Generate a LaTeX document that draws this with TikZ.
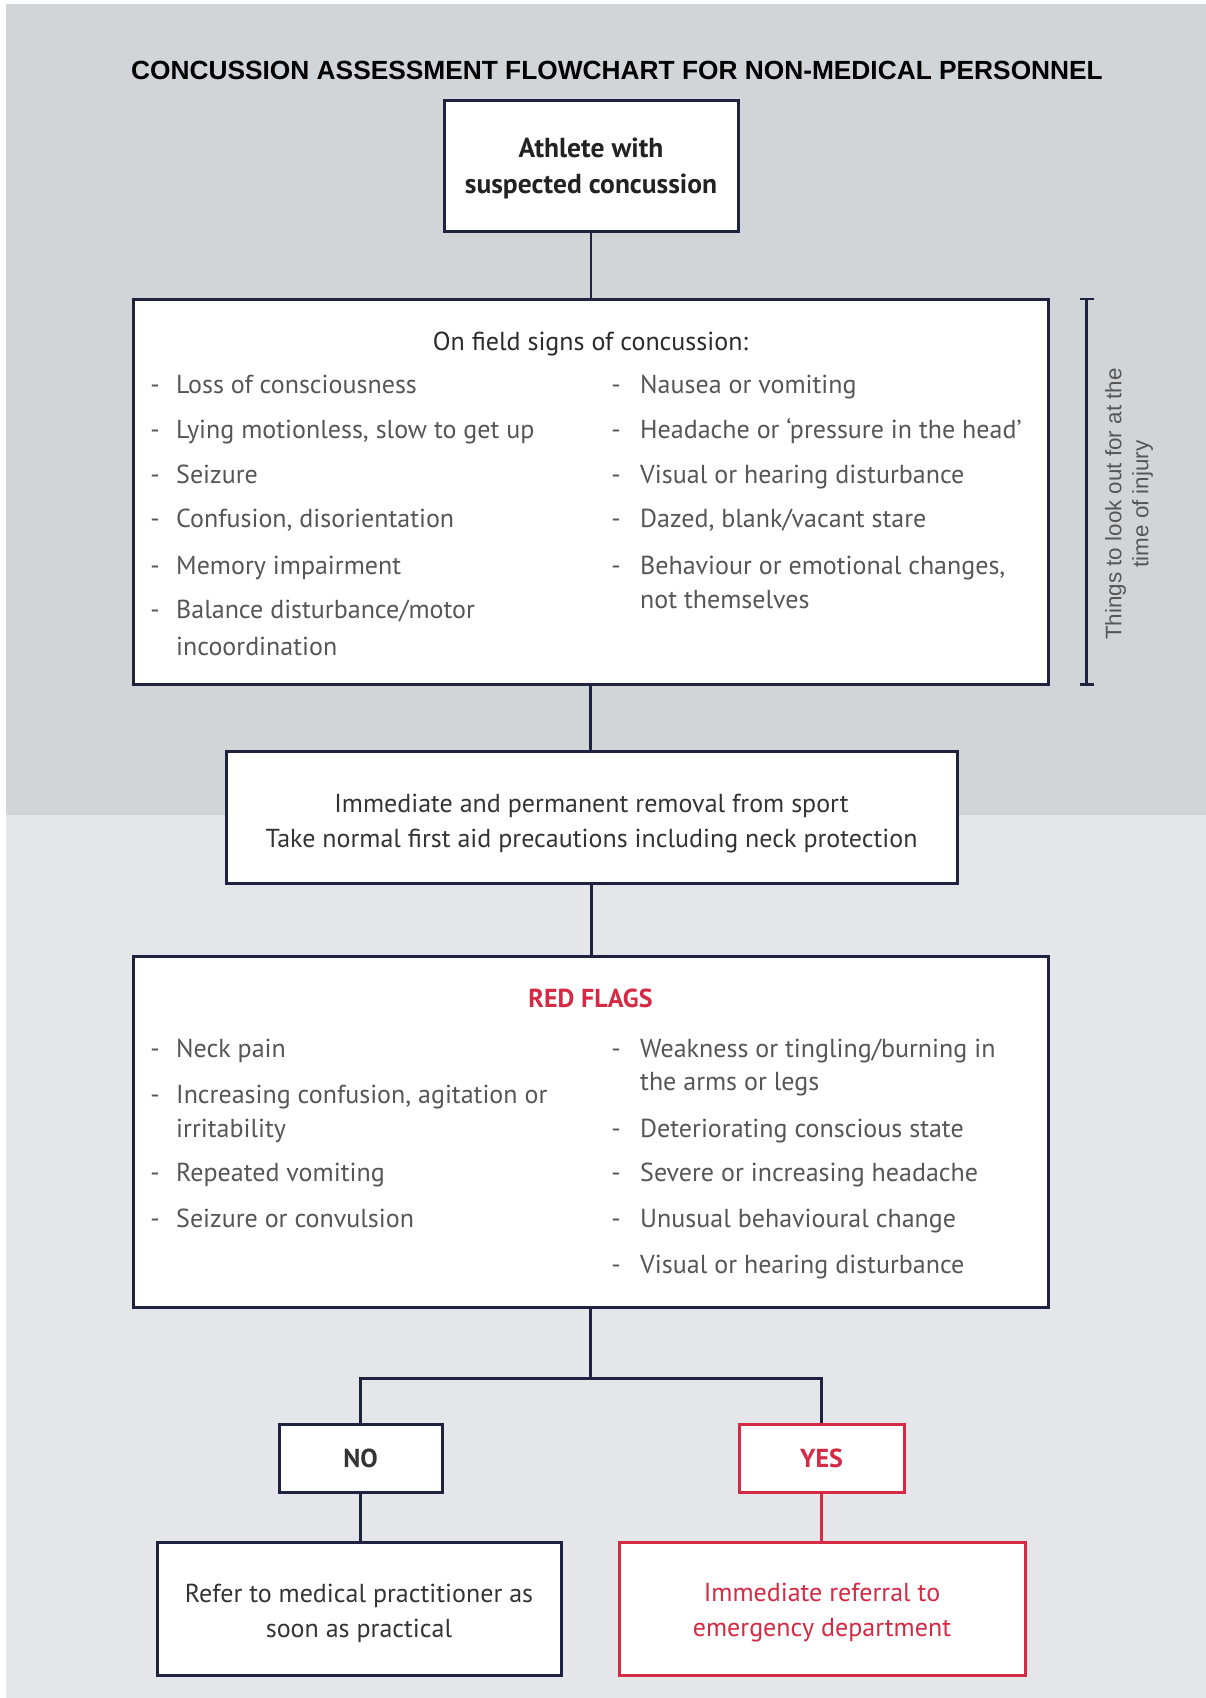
\documentclass[tikz,border=0pt]{standalone}
\usepackage{fontspec}
\setmainfont{PT Sans}
\newfontfamily\titlefont{Liberation Sans}
\usepackage{tikz}
\usetikzlibrary{positioning}
\usetikzlibrary{arrows.meta}
\newcommand{\itemSize}{\fontsize{26}{35}\selectfont}
\newcommand{\sideSize}{\fontsize{22.4}{27}\selectfont}
\definecolor{topGray}{HTML}{D1D5D8}
\definecolor{lowGray}{HTML}{E5E6E9}
\definecolor{boxNavy}{HTML}{1F2240}
\definecolor{flagRed}{HTML}{D42A44}
\definecolor{textGray}{HTML}{565656}

\begin{document}
\begin{tikzpicture}[x=1pt,y=-1pt,
  box/.style={draw=boxNavy,line width=3pt,fill=white,align=center,inner sep=0pt,font=\itemSize,text=textGray!60!black},
  redbox/.style={box,draw=flagRed,text=flagRed},
  boxtext/.style={align=center,inner sep=0pt,font=\itemSize,text=textGray!60!black},
  link/.style={draw=boxNavy,line width=2.5pt},
  listline/.style={anchor=mid west,inner sep=0pt,yshift=-7.5pt,font=\itemSize,text=textGray},
  listdash/.style={anchor=mid,inner sep=0pt,yshift=-7.5pt,font=\itemSize,text=textGray}]
\useasboundingbox (0,0) rectangle (1206,1698);
\fill[white] (0,0) rectangle (1206,1698);
\fill[topGray] (6,4) rectangle (1206,815);
\fill[lowGray] (6,815) rectangle (1206,1698);

\node[font=\titlefont\bfseries\fontsize{26.3}{30}\selectfont] (title) at (617,70) {CONCUSSION ASSESSMENT FLOWCHART FOR NON-MEDICAL PERSONNEL};

% boxes
\node[box,minimum width=294,minimum height=131] (athlete) at (591,165.5) {};
\node[box,minimum width=915,minimum height=385] (signs) at (590.5,491.5) {};
\node[box,minimum width=731,minimum height=132] (removal) at (591.5,817) {};
\node[box,minimum width=915,minimum height=351] (flags) at (590.5,1131.5) {};
\node[box,font=\itemSize\bfseries,minimum width=163,minimum height=68] (no) at (360.5,1458) {NO};
\node[redbox,font=\itemSize\bfseries,minimum width=165,minimum height=68] (yes) at (821.5,1458) {YES};
\node[box,minimum width=404,minimum height=133] (refer) at (359,1608.5) {};
\node[redbox,minimum width=406,minimum height=133] (emergency) at (822,1608.5) {};

% box texts
\node[boxtext,font=\fontsize{27.5}{36}\selectfont\bfseries,text=textGray!40!black] (athleteText) at (591,168) {Athlete with\\suspected concussion};
\node[boxtext] (removalText) at (591.5,823.5) {Immediate and permanent removal from sport\\Take normal first aid precautions including neck protection};
\node[boxtext] (referText) at (359,1613) {Refer to medical practitioner as\\soon as practical};
\node[boxtext,text=flagRed] (emergencyText) at (822,1613) {Immediate referral to\\emergency department};

% connectors
\draw[link] (athlete.south) -- (athlete.south |- signs.north);
\draw[link] (signs.south) -- (signs.south |- removal.north);
\draw[link] (removal.south) -- (removal.south |- flags.north);
\draw[link] (flags.south) -- ++(0,70) coordinate (split);
\draw[link] (no.north) |- (split) -| (yes.north);
\draw[link] (no.south) -- (no.south |- refer.north);
\draw[link,draw=flagRed] (yes.south) -- (yes.south |- emergency.north);

% on field signs
\node[font=\itemSize,text=textGray!50!black] (signsHead) at (590.5,343.5) {On field signs of concussion:};
\foreach \y [count=\i] in {383,428,473,517,564,608}
  \node[listdash] (sdl\i) at (155,\y) {-};
\foreach \y/\t [count=\i] in {383/Loss of consciousness,428/{Lying motionless, slow to get up},473/Seizure,517/{Confusion, disorientation},564/Memory impairment,608/{Balance disturbance/motor},645/incoordination}
  \node[listline] (sl\i) at (176,\y) {\t};
\foreach \y [count=\i] in {383,428,473,517,564}
  \node[listdash] (sdr\i) at (616,\y) {-};
\foreach \y/\t [count=\i] in {383/Nausea or vomiting,428/{Headache or `pressure in the head'},473/Visual or hearing disturbance,517/{Dazed, blank/vacant stare},564/{Behaviour or emotional changes,},598/not themselves}
  \node[listline] (sr\i) at (640,\y) {\t};

% side note
\draw[link,{Bar[width=14pt]}-{Bar[width=14pt]}] ([xshift=37]signs.north east) -- ([xshift=37]signs.south east);
\node[rotate=90,align=center,font=\titlefont\sideSize,text=textGray] (lookout) at (1129,504) {Things to look out for at the\\time of injury};

% red flags
\node[font=\itemSize\bfseries,text=flagRed] (flagsHead) at (590.5,998) {RED FLAGS};
\foreach \y [count=\i] in {1047,1093,1171,1217}
  \node[listdash] (fdl\i) at (155,\y) {-};
\foreach \y/\t [count=\i] in {1047/Neck pain,1093/{Increasing confusion, agitation or},1127/irritability,1171/Repeated vomiting,1217/Seizure or convulsion}
  \node[listline] (fl\i) at (176,\y) {\t};
\foreach \y [count=\i] in {1047,1127,1171,1217,1263}
  \node[listdash] (fdr\i) at (616,\y) {-};
\foreach \y/\t [count=\i] in {1047/{Weakness or tingling/burning in},1080/the arms or legs,1127/Deteriorating conscious state,1171/Severe or increasing headache,1217/Unusual behavioural change,1263/Visual or hearing disturbance}
  \node[listline] (fr\i) at (640,\y) {\t};
\end{tikzpicture}
\end{document}
